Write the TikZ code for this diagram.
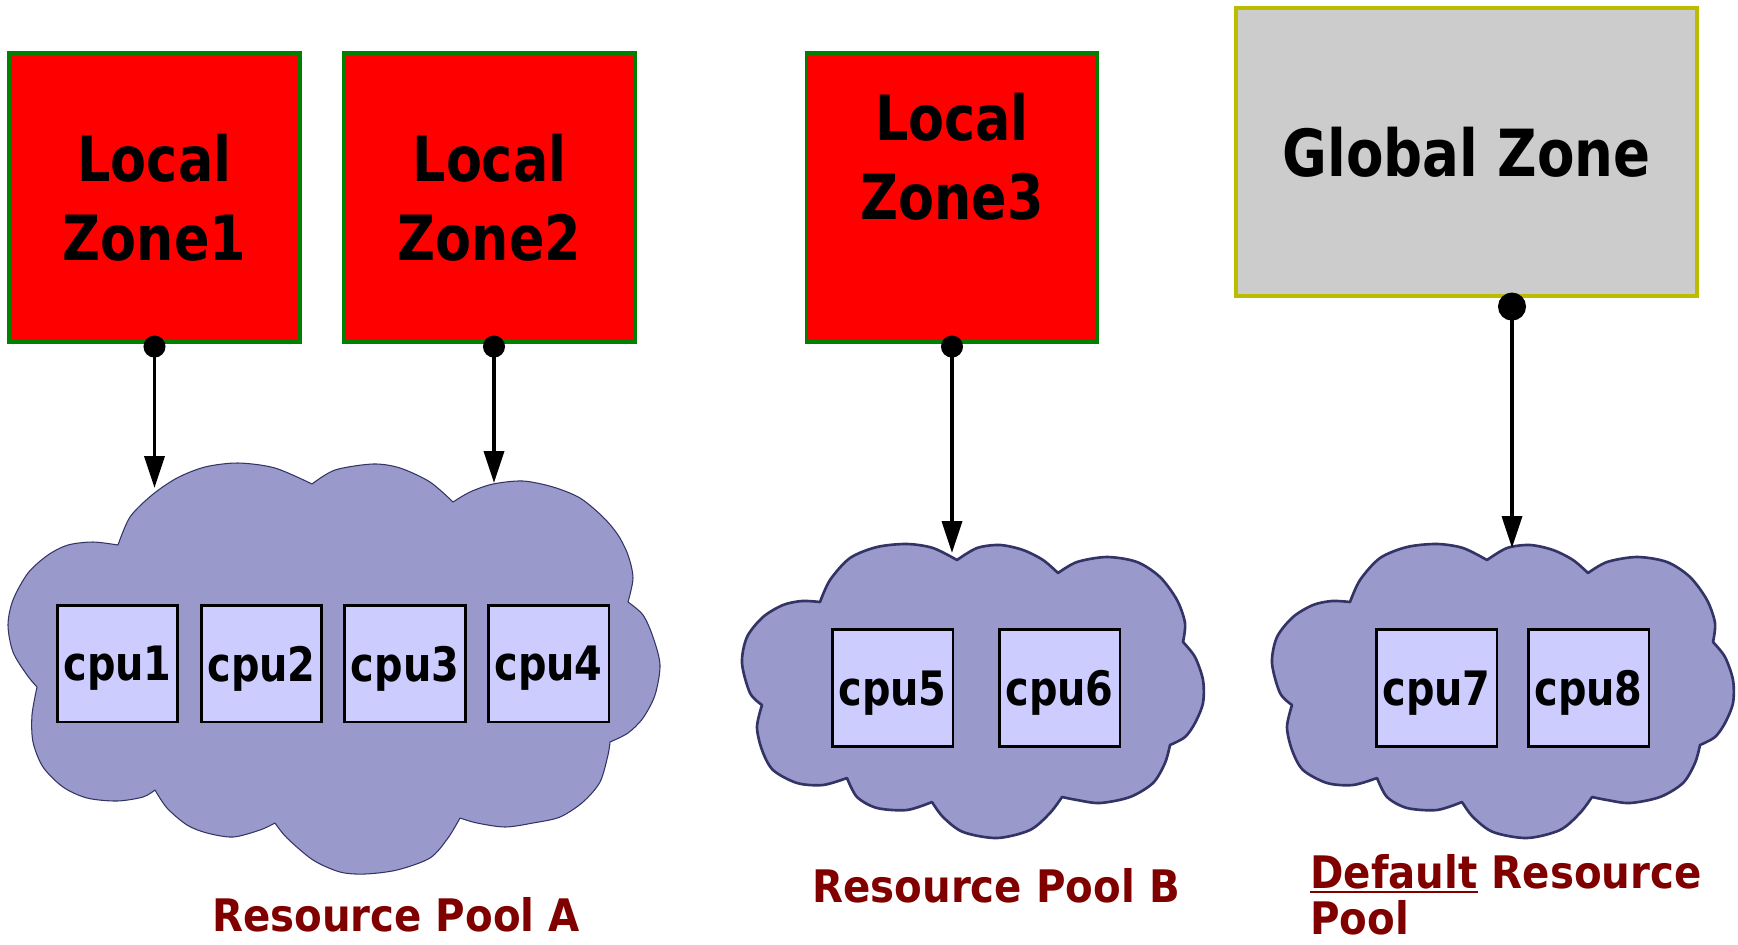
\documentclass[tikz,border=0pt]{standalone}
\usepackage{fontspec}
\setmainfont{DejaVu Sans}[FakeStretch=0.84]
\newfontfamily\poolfont{DejaVu Sans}[FakeStretch=0.9]
\usetikzlibrary{arrows.meta}

\definecolor{zonered}{RGB}{255,0,0}
\definecolor{zoneedge}{RGB}{0,128,0}
\definecolor{globalgray}{RGB}{204,204,204}
\definecolor{globaledge}{RGB}{187,187,0}
\definecolor{poolfill}{RGB}{153,153,204}
\definecolor{pooledge}{RGB}{51,51,102}
\definecolor{cpufill}{RGB}{204,204,255}
\definecolor{poolred}{RGB}{128,0,0}

\newsavebox\undlbox
\newcommand{\undl}[1]{\sbox\undlbox{#1}\rlap{\rule[-2.8pt]{\wd\undlbox}{1.1pt}}\usebox\undlbox}

\tikzset{
  zone/.style={draw=zoneedge, fill=zonered, line width=1.8pt, minimum width=5.82cm, minimum height=5.78cm, align=center, font=\bfseries\fontsize{35.5}{45}\selectfont, text depth=0pt},
  zonetext/.style={align=center, font=\bfseries\fontsize{35.5}{45}\selectfont, text depth=0pt},
  global/.style={draw=globaledge, fill=globalgray, line width=1.8pt, minimum width=9.22cm, minimum height=5.76cm, font=\bfseries\fontsize{37}{45}\selectfont, text depth=0pt},
  cpu/.style={draw, fill=cpufill, line width=1.7pt, minimum width=2.42cm, minimum height=2.34cm, inner sep=0pt, font=\bfseries\fontsize{27}{30}\selectfont, text depth=0pt},
  poolA/.style={draw=pooledge, fill=poolfill, line width=0.6pt, line join=round},
  poolB/.style={draw=pooledge, fill=poolfill, line width=1.5pt, line join=round},
  link/.style={line width=2pt, {Circle[length=0.44cm]}-{Triangle[length=0.64cm,width=0.4cm]}, shorten <=-0.16cm},
  pooltext/.style={text=poolred, inner sep=0pt, font=\poolfont\bfseries\fontsize{25.5}{26.5}\selectfont}
}

\begin{document}
\begin{tikzpicture}[x=0.02cm, y=-0.02cm]
  \useasboundingbox (0,0) rectangle (1738,944);

  % resource pool A
  \draw[poolA] (118,545)
    -- plot[smooth] coordinates {(118,545) (130,517) (152,495) (177,478) (205,467) (238,463) (275,468) (312,484)}
    -- plot[smooth] coordinates {(312,484) (335,470) (373,464) (400,468) (430,482) (453,502)}
    -- plot[smooth] coordinates {(453,502) (470,492) (493,484) (523,481) (553,487) (580,498) (603,517) (618,535) (628,555) (633,578) (628,602)}
    -- plot[smooth] coordinates {(628,602) (643,615) (653,637) (660,665) (655,695) (643,718) (628,733) (610,742)}
    -- plot[smooth] coordinates {(610,742) (608,755) (600,782) (583,802) (560,817) (533,823) (505,827) (477,823) (460,818)}
    -- plot[smooth] coordinates {(460,818) (448,838) (430,858) (397,870) (365,874) (340,872) (313,860) (287,838) (275,823)}
    -- plot[smooth] coordinates {(275,823) (260,830) (233,837) (207,833) (187,825) (167,808) (155,790)}
    -- plot[smooth] coordinates {(155,790) (143,797) (117,801) (87,798) (63,787) (43,767) (33,742) (32,715) (37,687)}
    -- plot[smooth] coordinates {(37,687) (27,675) (13,652) (8,625) (13,600) (28,573) (48,555) (68,545) (93,542) (118,545)}
    -- cycle;

  % resource pools B and default
  \def\cloudB{(820,602)
    -- plot[smooth] coordinates {(820,602) (830,580) (850,558) (877,547) (907,544) (933,548) (957,560)}
    -- plot[smooth] coordinates {(957,560) (977,548) (1000,545) (1023,550) (1043,560) (1058,573)}
    -- plot[smooth] coordinates {(1058,573) (1077,562) (1107,557) (1137,562) (1160,577) (1177,600) (1185,623) (1183,642)}
    -- plot[smooth] coordinates {(1183,642) (1195,657) (1203,680) (1203,703) (1195,723) (1185,737) (1170,745)}
    -- plot[smooth] coordinates {(1170,745) (1165,763) (1153,783) (1130,797) (1100,803) (1077,800) (1062,797)}
    -- plot[smooth] coordinates {(1062,797) (1050,813) (1030,830) (997,838) (963,832) (943,817) (932,802)}
    -- plot[smooth] coordinates {(932,802) (907,810) (877,808) (857,797) (847,778)}
    -- plot[smooth] coordinates {(847,778) (823,785) (797,783) (773,770) (762,750) (757,727) (762,705)}
    -- plot[smooth] coordinates {(762,705) (750,693) (742,663) (747,637) (763,617) (783,605) (802,601) (820,602)}
    -- cycle}
  \draw[poolB] \cloudB;
  \begin{scope}[shift={(530,0)}]
    \draw[poolB] \cloudB;
  \end{scope}

  \foreach \n/\x/\y in {1/117.5/663.5, 2/261.5/663.5, 3/405/663.5, 4/548.5/663.5,
                        5/892.5/688, 6/1059.5/688, 7/1436.5/688, 8/1588.5/688}
    \node[cpu] (cpu\n) at (\x,\y) {cpu\n};

  % zones
  \node[zone] (zone1) at (154.5,197.5) {Local\\Zone1};
  \node[zone] (zone2) at (489.5,197.5) {Local\\Zone2};
  \node[zone, label={[zonetext, yshift=0.82cm]center:{Local\\Zone3}}] (zone3) at (952,197.5) {};
  \node[global] (global) at (1466.5,152) {Global Zone};

  \coordinate (tip1) at (154.5,488);
  \coordinate (tip2) at (494,483);
  \coordinate (tip3) at (952,553);
  \coordinate (tip4) at (1512,548);
  \draw[link] (zone1.south) -- (tip1);
  \draw[link] (zone2.south -| tip2) -- (tip2);
  \draw[link] (zone3.south) -- (tip3);
  \draw[link, {Circle[length=0.56cm]}-{Triangle[length=0.64cm,width=0.4cm]}, shorten <=-0.1cm] (global.south -| tip4) -- (tip4);

  \node[pooltext, anchor=base] (labelA) at (396,931) {Resource Pool A};
  \node[pooltext, anchor=base] (labelB) at (996,902) {Resource Pool B};
  \node[pooltext, anchor=north west, align=left] (labeldef) at (1310,854) {\undl{Default} Resource\\Pool};
\end{tikzpicture}
\end{document}
